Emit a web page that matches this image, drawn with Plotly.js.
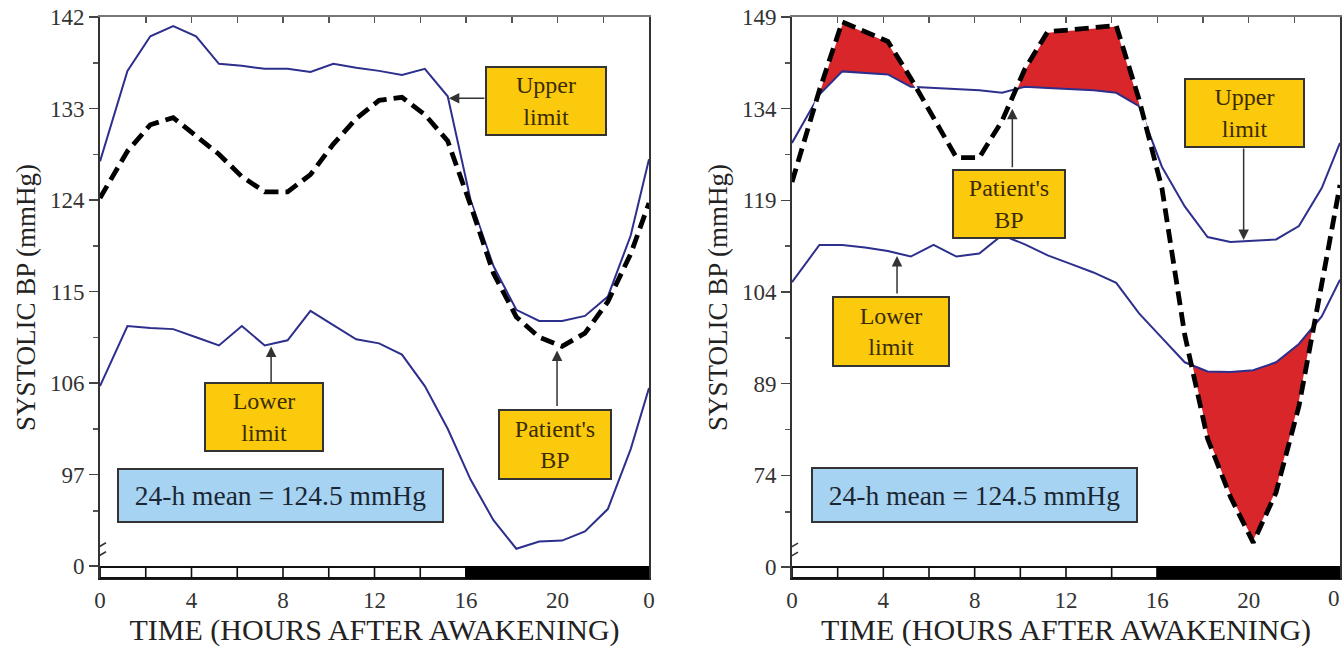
<!DOCTYPE html>
<html><head><meta charset="utf-8">
<script src="https://cdn.plot.ly/plotly-3.0.1.min.js"></script>
<style>html,body{margin:0;padding:0;background:#fff}#chart{width:1343px;height:647px}</style>
</head><body><div id="chart"></div>
<script>
// ---- data ----
const hours = [0, 1.2, 2.2, 3.2, 4.2, 5.2, 6.2, 7.2, 8.2, 9.2, 10.2, 11.2, 12.2, 13.2, 14.2, 15.2, 16.2, 17.2, 18.2, 19.2, 20.2, 21.2, 22.2, 23.2, 24];

const upperLeft   = [127.8, 136.7, 140.1, 141.1, 140.1, 137.4, 137.2, 136.9, 136.9, 136.6, 137.4, 137.0, 136.7, 136.3, 136.9, 134.2, 124.0, 117.5, 113.2, 112.1, 112.1, 112.6, 114.5, 120.5, 128.0];
const patientLeft = [124.2, 128.8, 131.4, 132.1, 130.3, 128.5, 126.3, 124.8, 124.8, 126.5, 129.5, 132.0, 133.8, 134.1, 132.4, 129.8, 123.5, 116.8, 112.5, 110.5, 109.6, 110.9, 114.0, 118.7, 123.7];
const lowerLeft   = [105.7, 111.6, 111.4, 111.3, 110.5, 109.7, 111.6, 109.7, 110.2, 113.1, 111.7, 110.3, 109.9, 108.8, 105.7, 101.5, 96.5, 92.5, 89.7, 90.4, 90.5, 91.4, 93.6, 99.5, 105.5];

const upperRight   = [128.4, 136.3, 140.1, 139.9, 139.6, 137.6, 137.4, 137.2, 137.0, 136.6, 137.6, 137.4, 137.2, 137.0, 136.6, 134.4, 124.5, 118.0, 113.0, 112.2, 112.4, 112.6, 114.8, 121.0, 128.4];
const patientRight = [122.0, 137.0, 148.2, 146.6, 145.0, 139.0, 132.5, 126.0, 126.0, 132.0, 140.5, 146.6, 146.9, 147.2, 147.6, 135.5, 121.0, 97.0, 80.0, 70.5, 63.0, 71.2, 85.3, 105.3, 121.5];
const lowerRight   = [105.6, 111.7, 111.7, 111.3, 110.7, 109.8, 111.7, 109.8, 110.3, 113.3, 111.8, 110.0, 108.6, 107.2, 105.5, 100.5, 96.5, 92.5, 91.0, 90.9, 91.2, 92.5, 95.5, 100.0, 106.0];

const xTickValsLeft    = [0, 4, 8, 12, 16, 20, 24];
const xTickLabelsLeft  = ['0', '4', '8', '12', '16', '20', '0'];
const xTickValsRight   = [0, 4, 8, 12, 16, 20];
const xTickLabelsRight = ['0', '4', '8', '12', '16', '20'];
const xEndLabel        = '0';
const xTopTicks   = [2, 4, 6, 8, 10, 12, 14, 16, 18, 20, 22];
const dayTicks    = [2, 4, 6, 8, 10, 12, 14];

const yTickValsLeft   = [88, 97, 106, 115, 124, 133, 142];
const yTickLabelsLeft = ['0', '97', '106', '115', '124', '133', '142'];
const yMinorLeft      = [93.4, 101.5, 110.5, 119.5, 128.5, 137.5];

const yTickValsRight   = [59, 74, 89, 104, 119, 134, 149];
const yTickLabelsRight = ['0', '74', '89', '104', '119', '134', '149'];
const yMinorRight      = [68, 81.5, 96.5, 111.5, 126.5, 141.5];

const nightStart = 16;
const meanText = '24-h mean = 124.5 mmHg';

// ---- helpers ----
function excursion(xs, p, lim, above) {
  const X = [], B = [], E = [];
  for (let i = 0; i < xs.length; i++) {
    const d = p[i] - lim[i];
    X.push(xs[i]); B.push(lim[i]);
    E.push(above ? Math.max(p[i], lim[i]) : Math.min(p[i], lim[i]));
    if (i < xs.length - 1) {
      const d2 = p[i + 1] - lim[i + 1];
      if (d * d2 < 0) {
        const t = d / (d - d2);
        const xc = xs[i] + t * (xs[i + 1] - xs[i]);
        const yc = lim[i] + t * (lim[i + 1] - lim[i]);
        X.push(xc); B.push(yc); E.push(yc);
      }
    }
  }
  return {X, B, E};
}

const FONT = "'Liberation Serif', 'DejaVu Serif', 'Times New Roman', Times, serif";
const BLUE = '#2d2f8c';
const RED = '#d8262a';
const YEL = '#fcca0c';
const BOXTXT = '#3b2c00';

function panelTraces(xa, ya, up, pat, low, withFill) {
  const tr = [];
  if (withFill) {
    const u = excursion(hours, pat, up, true);
    const l = excursion(hours, pat, low, false);
    tr.push({x: u.X, y: u.B, xaxis: xa, yaxis: ya, mode: 'lines', line: {width: 0, color: 'rgba(0,0,0,0)'}, hoverinfo: 'skip'});
    tr.push({x: u.X, y: u.E, xaxis: xa, yaxis: ya, mode: 'lines', fill: 'tonexty', fillcolor: RED, line: {width: 0, color: 'rgba(0,0,0,0)'}, hoverinfo: 'skip'});
    tr.push({x: l.X, y: l.B, xaxis: xa, yaxis: ya, mode: 'lines', line: {width: 0, color: 'rgba(0,0,0,0)'}, hoverinfo: 'skip'});
    tr.push({x: l.X, y: l.E, xaxis: xa, yaxis: ya, mode: 'lines', fill: 'tonexty', fillcolor: RED, line: {width: 0, color: 'rgba(0,0,0,0)'}, hoverinfo: 'skip'});
  }
  tr.push({x: hours, y: up, xaxis: xa, yaxis: ya, mode: 'lines', line: {color: BLUE, width: 2}});
  tr.push({x: hours, y: low, xaxis: xa, yaxis: ya, mode: 'lines', line: {color: BLUE, width: 2}});
  tr.push({x: hours, y: pat, xaxis: xa, yaxis: ya, mode: 'lines', line: {color: '#ffffff', width: 2}});
  tr.push({x: hours, y: pat, xaxis: xa, yaxis: ya, mode: 'lines', line: {color: '#000000', width: 4.8, dash: '14px,7px'}});
  return tr;
}

const traces = [].concat(
  panelTraces('x', 'y', upperLeft, patientLeft, lowerLeft, false),
  panelTraces('x2', 'y2', upperRight, patientRight, lowerRight, true),
  [{x: [0], y: [null], xaxis: 'x3', yaxis: 'y', mode: 'lines', hoverinfo: 'skip'},
   {x: [0], y: [null], xaxis: 'x4', yaxis: 'y2', mode: 'lines', hoverinfo: 'skip'}]
);

const yDom = [69 / 647, 630 / 647];

function xAxis(domain, anchor, tv, tt) {
  return {
    domain: domain, anchor: anchor, range: [0, 24], fixedrange: true,
    tickmode: 'array', tickvals: tv, ticktext: tt,
    ticks: '', showline: true, linecolor: '#222', linewidth: 2,
    showgrid: false, zeroline: false,
    tickfont: {family: FONT, size: 23, color: '#333'},
    title: {text: 'TIME (HOURS AFTER AWAKENING)', font: {family: FONT, size: 30, color: '#222'}, standoff: 6}
  };
}
function topAxis(over, anchor) {
  return {
    overlaying: over, anchor: anchor, side: 'top', range: [0, 24], fixedrange: true,
    tickmode: 'array', tickvals: xTopTicks, ticks: 'inside', ticklen: 6, tickwidth: 1.5, tickcolor: '#555',
    showticklabels: false, showline: true, linecolor: '#777', linewidth: 2,
    showgrid: false, zeroline: false
  };
}
function yAxis(range, tv, tt, minor, anchor) {
  return {
    domain: yDom, anchor: anchor, range: range, fixedrange: true,
    tickmode: 'array', tickvals: tv, ticktext: tt,
    ticks: 'outside', ticklen: 9, tickwidth: 1.5, tickcolor: '#444',
    minor: {tickmode: 'array', tickvals: minor, ticks: 'outside', ticklen: 5, tickwidth: 1.5, tickcolor: '#555'},
    showline: true, linecolor: '#333', linewidth: 2, mirror: true,
    showgrid: false, zeroline: false,
    tickfont: {family: FONT, size: 23, color: '#333'},
    title: {text: 'SYSTOLIC BP (mmHg)', font: {family: FONT, size: 27, color: '#222'}, standoff: 6}
  };
}

const BAR_TOP = 0.0196;
function barShapes(xr, yr) {
  const s = [
    {type: 'rect', xref: xr, yref: yr + ' domain', x0: 0, x1: nightStart, y0: 0, y1: BAR_TOP, fillcolor: '#fff', line: {color: '#111', width: 1.8}, layer: 'above'},
    {type: 'rect', xref: xr, yref: yr + ' domain', x0: nightStart, x1: 24, y0: 0, y1: BAR_TOP, fillcolor: '#000', line: {color: '#000', width: 1.8}, layer: 'above'}
  ];
  dayTicks.forEach(function (t) {
    s.push({type: 'line', xref: xr, yref: yr + ' domain', x0: t, x1: t, y0: 0, y1: BAR_TOP, line: {color: '#111', width: 1.6}, layer: 'above'});
  });
  return s;
}
function breakShapes(xr, yr, yA) {
  const base = {xref: xr, yref: yr, xsizemode: 'pixel', ysizemode: 'pixel', xanchor: 0, yanchor: yA, layer: 'above'};
  return [
    Object.assign({type: 'rect', x0: -3, x1: 3, y0: -4, y1: 4, fillcolor: '#fff', line: {width: 0}}, base),
    Object.assign({type: 'line', x0: -6, x1: 6, y0: 1, y1: 8, line: {color: '#333', width: 1.6}}, base),
    Object.assign({type: 'line', x0: -6, x1: 6, y0: -8, y1: -1, line: {color: '#333', width: 1.6}}, base)
  ];
}

function box(xr, yr, x, y, text, w, h, bg, fontSize, col) {
  return {xref: xr, yref: yr, x: x, y: y, xanchor: 'center', yanchor: 'middle', text: text, showarrow: false,
    width: w, height: h, bgcolor: bg, bordercolor: '#333', borderwidth: 2, borderpad: 2,
    font: {family: FONT, size: fontSize, color: col}, align: 'center'};
}
function arrow(xr, yr, x, y, ax, ay) {
  return {xref: xr, yref: yr, x: x, y: y, ax: ax, ay: ay, text: '', showarrow: true,
    arrowhead: 2, arrowsize: 1.4, arrowwidth: 1.5, arrowcolor: '#333', standoff: 0};
}

const annotations = [
  box('x', 'y', 19.5, 133.69, 'Upper<br>limit', 114, 62, YEL, 24, BOXTXT),
  arrow('x', 'y', 15.25, 134.0, 37, 0),
  box('x', 'y', 7.17, 102.66, 'Lower<br>limit', 112, 62, YEL, 24, BOXTXT),
  arrow('x', 'y', 7.48, 109.6, 0, 37),
  box('x', 'y', 19.89, 99.95, "Patient's<br>BP", 106, 63, YEL, 24, BOXTXT),
  arrow('x', 'y', 19.98, 109.2, 0, 57),
  box('x', 'y', 7.89, 94.94, meanText, 319, 47, '#a6d3f1', 27.5, '#1b2633'),

  box('x2', 'y2', 9.5, 118.4, "Patient's<br>BP", 106, 62, YEL, 24, BOXTXT),
  arrow('x2', 'y2', 9.65, 134.0, 0, 60),
  box('x2', 'y2', 4.34, 97.5, 'Lower<br>limit', 110, 63, YEL, 24, BOXTXT),
  arrow('x2', 'y2', 4.6, 109.9, 0, 39),
  box('x2', 'y2', 19.82, 133.29, 'Upper<br>limit', 113, 62, YEL, 24, BOXTXT),
  arrow('x2', 'y2', 19.78, 112.5, 0, -93),
  box('x2', 'y2', 7.99, 70.8, meanText, 319, 48, '#a6d3f1', 27.5, '#1b2633'),
  {xref: 'x2', yref: 'paper', x: 24, y: 49 / 647, xanchor: 'right', yanchor: 'middle', xshift: 2, text: xEndLabel, showarrow: false,
    font: {family: FONT, size: 23, color: '#333'}}
];

const layout = {
  width: 1343, height: 647,
  margin: {l: 0, r: 0, t: 0, b: 0},
  paper_bgcolor: '#fff', plot_bgcolor: '#fff',
  showlegend: false,
  font: {family: FONT},
  xaxis: xAxis([100 / 1343, 649 / 1343], 'y', xTickValsLeft, xTickLabelsLeft),
  yaxis: yAxis([86.82, 142], yTickValsLeft, yTickLabelsLeft, yMinorLeft, 'x'),
  xaxis2: xAxis([792 / 1343, 1340 / 1343], 'y2', xTickValsRight, xTickLabelsRight),
  yaxis2: yAxis([57.2, 149], yTickValsRight, yTickLabelsRight, yMinorRight, 'x2'),
  xaxis3: topAxis('x', 'y'),
  xaxis4: topAxis('x2', 'y2'),
  shapes: [].concat(barShapes('x', 'y'), barShapes('x2', 'y2'), breakShapes('x', 'y', 89.5), breakShapes('x2', 'y2', 61.6)),
  annotations: annotations
};

Plotly.newPlot('chart', traces, layout, {displayModeBar: false, staticPlot: true});
</script></body></html>
